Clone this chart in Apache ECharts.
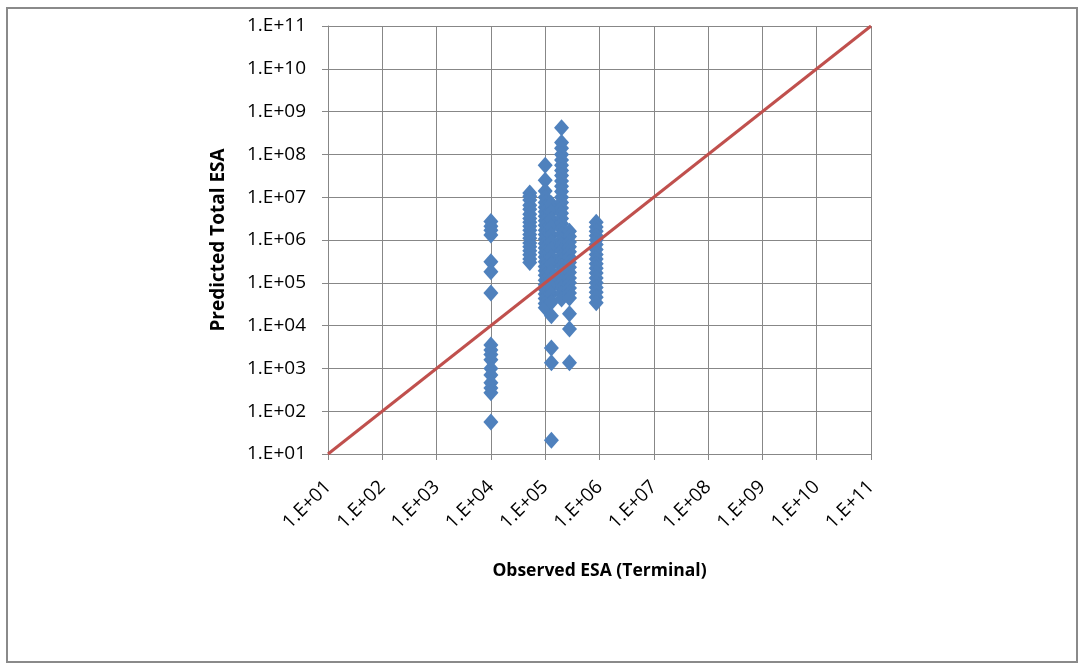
<!DOCTYPE html>
<html>
<head>
<meta charset="utf-8">
<script src="https://cdn.jsdelivr.net/npm/echarts@6/dist/echarts.min.js"></script>
<style>
html,body{margin:0;padding:0;background:#fff;}
#chart{width:1079px;height:665px;}
</style>
</head>
<body>
<div id="chart"></div>
<script>
// Observed ESA value of each vertical group of points
const observedGroups = [1.0e4, 5.2e4, 1.0e5, 1.3e5, 2.0e5, 2.8e5, 8.7e5];
// Predicted Total ESA values for each group
const predGroup1 = [2.7e6, 2.1e6, 1.7e6, 1.3e6, 3.1e5, 1.8e5, 5.8e4, 3.5e3, 2.7e3, 2.1e3, 1.6e3, 1.0e3, 7.0e2, 4.6e2, 3.5e2, 2.7e2, 56];
const predGroup2 = [1.26e7, 1.05e7, 8.6e6, 6.5e6, 5.2e6, 4.0e6, 3.2e6, 2.6e6, 2.1e6, 1.7e6, 1.35e6, 1.1e6, 8.5e5, 7.0e5, 5.6e5, 4.5e5, 3.6e5, 3.0e5];
const predGroup3 = [5.6e7, 2.5e7, 1.4e7, 1.0e7, 7.5e6, 5.8e6, 4.6e6, 3.6e6, 2.8e6, 2.2e6, 1.7e6, 1.35e6, 1.05e6, 8.3e5, 6.5e5, 5.1e5, 4.0e5, 3.1e5, 2.4e5, 1.9e5, 1.5e5, 1.15e5, 9.0e4, 7.0e4, 5.5e4, 4.3e4, 3.3e4, 2.6e4];
const predGroup4 = [7.0e6, 4.5e6, 3.0e6, 2.0e6, 1.3e6, 9.0e5, 6.0e5, 4.0e5, 2.7e5, 1.8e5, 1.2e5, 8.0e4, 5.5e4, 3.5e4, 1.7e4, 3.0e3, 1.35e3, 21];
const predGroup5 = [4.2e8, 1.9e8, 1.4e8, 1.0e8, 7.4e7, 5.6e7, 4.2e7, 3.2e7, 2.4e7, 1.8e7, 1.35e7, 1.0e7, 7.5e6, 5.6e6, 4.2e6, 3.2e6, 2.4e6, 1.8e6, 1.35e6, 1.0e6, 7.5e5, 5.6e5, 4.2e5, 3.2e5, 2.4e5, 1.8e5, 1.35e5, 1.0e5, 7.5e4, 5.6e4, 4.2e4];
const predGroup6 = [1.6e6, 1.2e6, 9.0e5, 7.0e5, 5.3e5, 4.0e5, 3.0e5, 2.3e5, 1.75e5, 1.3e5, 1.0e5, 7.6e4, 5.8e4, 4.4e4, 1.9e4, 8.3e3, 1.35e3];
const predGroup7 = [2.6e6, 2.0e6, 1.6e6, 1.25e6, 1.0e6, 7.8e5, 6.0e5, 4.6e5, 3.6e5, 2.8e5, 2.2e5, 1.7e5, 1.3e5, 1.0e5, 7.8e4, 6.0e4, 4.6e4, 3.4e4];
const predGroups = [predGroup1, predGroup2, predGroup3, predGroup4, predGroup5, predGroup6, predGroup7];
// 1:1 reference line end points
const lineX = [1e1, 1e11];
const lineY = [1e1, 1e11];
// Axis range
const axisMin = 1e1, axisMax = 1e11;

const scatterData = [];
observedGroups.forEach((obs, i) => {
  predGroups[i].forEach(p => scatterData.push([obs, p]));
});
const lineData = lineX.map((x, i) => [x, lineY[i]]);

function fmt(v) {
  const e = Math.round(Math.log10(v));
  return '1.E+' + (e < 10 ? '0' : '') + e;
}

const gridColor = '#878787';
const FONT = 'Open Sans';

const chart = echarts.init(document.getElementById('chart'), null, {renderer: 'canvas'});
chart.setOption({
  animation: false,
  backgroundColor: '#ffffff',
  grid: {left: 328, right: 208, top: 26, bottom: 211, containLabel: false},
  graphic: [{
    type: 'rect',
    shape: {x: 7, y: 8, width: 1070, height: 654},
    style: {fill: 'none', stroke: '#8a8a8a', lineWidth: 2},
    z: -1
  }],
  xAxis: {
    type: 'log', logBase: 10, min: axisMin, max: axisMax, interval: 1,
    name: 'Observed ESA (Terminal)', nameLocation: 'middle', nameGap: 108,
    nameTextStyle: {fontFamily: FONT, fontWeight: 'bold', fontSize: 17.5, color: '#000'},
    axisLine: {show: true, onZero: false, lineStyle: {color: gridColor, width: 1}},
    axisTick: {show: true, inside: false, length: 6, lineStyle: {color: gridColor}},
    splitLine: {show: true, lineStyle: {color: gridColor, width: 1}},
    minorTick: {show: false}, minorSplitLine: {show: false},
    axisLabel: {rotate: 45, margin: 30, interval: 0, formatter: fmt, fontFamily: FONT, fontSize: 19, color: '#000'}
  },
  yAxis: {
    type: 'log', logBase: 10, min: axisMin, max: axisMax, interval: 1,
    name: 'Predicted Total ESA', nameLocation: 'middle', nameGap: 100,
    nameTextStyle: {fontFamily: FONT, fontWeight: 'bold', fontSize: 19, color: '#000'},
    axisLine: {show: true, onZero: false, lineStyle: {color: gridColor, width: 1}},
    axisTick: {show: true, inside: false, length: 6, lineStyle: {color: gridColor}},
    splitLine: {show: true, lineStyle: {color: gridColor, width: 1}},
    minorTick: {show: false}, minorSplitLine: {show: false},
    axisLabel: {margin: 22, interval: 0, formatter: fmt, fontFamily: FONT, fontSize: 19, color: '#000'}
  },
  series: [{
    type: 'scatter',
    data: scatterData,
    symbol: 'diamond',
    symbolSize: [15, 17],
    itemStyle: {color: '#4F81BD', opacity: 1}
  }, {
    type: 'line',
    data: lineData,
    showSymbol: false,
    symbol: 'none',
    lineStyle: {color: '#C0504D', width: 3}
  }]
});
</script>
</body>
</html>
